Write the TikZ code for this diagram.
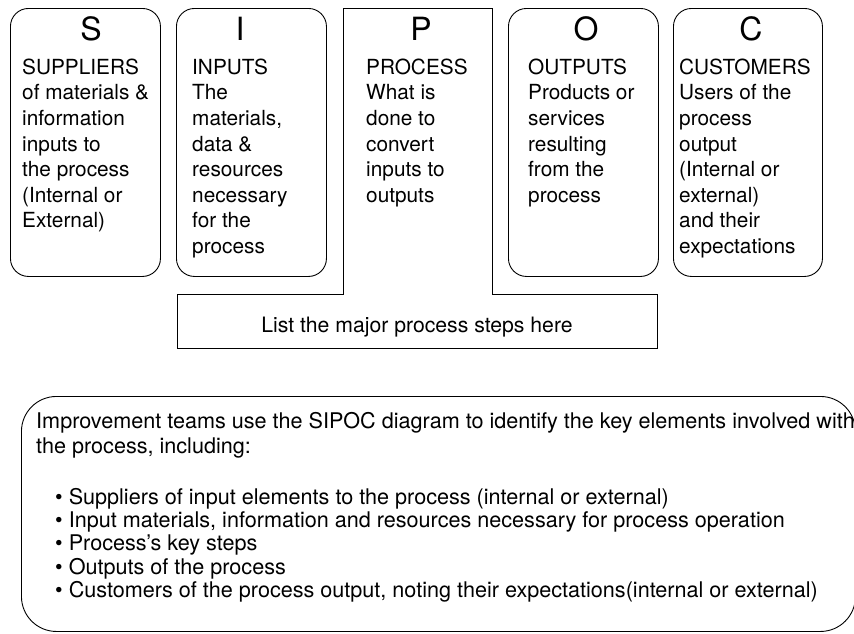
\documentclass[tikz,border=0pt]{standalone}
\usepackage{fontspec}
\setmainfont{TeX Gyre Heros}

\begin{document}
\begin{tikzpicture}[x=1pt, y=-1pt,
    sipocbox/.style={draw, line width=0.9pt, rounded corners=18pt, minimum width=150pt, minimum height=268pt, anchor=north west, inner sep=0pt},
    letter/.style={font=\fontsize{32}{36}\selectfont, anchor=base},
    boxtext/.style={font=\fontsize{20.8}{25.6}\selectfont, align=left, anchor=north west, inner sep=0pt},
    notetext/.style={font=\fontsize{21.6}{25}\selectfont, align=left, anchor=north west, inner sep=0pt},
    bullettext/.style={font=\fontsize{21.6}{23.3}\selectfont, align=left, anchor=north west, inner sep=0pt}]
    \useasboundingbox (0,0) rectangle (854,633);
    \clip (0,0) rectangle (854,633);

    % Kaesten S, I, O, C
    \node[sipocbox] (supbox) at (10,8) {};
    \node[sipocbox] (inbox) at (176,8) {};
    \node[sipocbox] (outbox) at (508,8) {};
    \node[sipocbox, minimum width=149pt] (custbox) at (673,8) {};

    % Prozess-Spalte mit Fuss
    \draw[line width=0.9pt] (343,8) -- (492,8) -- (492,294) -- (657,294) -- (657,348)
        -- (177,348) -- (177,294) -- (343,294) -- cycle;

    % Buchstaben
    \node[letter] (sletter) at (91,40) {S};
    \node[letter] (iletter) at (240,40) {I};
    \node[letter] (pletter) at (421,40) {P};
    \node[letter] (oletter) at (586,40) {O};
    \node[letter] (cletter) at (751,40) {C};

    % Texte
    \node[boxtext] (suptext) at (22,56.1) {\strut SUPPLIERS\\of materials \&\\information\\inputs to\\the process\\(Internal or\\External)};
    \node[boxtext] (intext) at (192,56.1) {\strut INPUTS\\The\\materials,\\data \&\\resources\\necessary\\for the\\process};
    \node[boxtext] (proctext) at (366,56.1) {\strut PROCESS\\What is\\done to\\convert\\inputs to\\outputs};
    \node[boxtext] (outtext) at (528,56.1) {\strut OUTPUTS\\Products or\\services\\resulting\\from the\\process};
    \node[boxtext] (custtext) at (679,56.1) {\strut CUSTOMERS\\Users of the\\process\\output\\(Internal or\\external)\\and their\\expectations};

    \node[font=\fontsize{21.2}{25}\selectfont, anchor=base] (steps) at (417,332) {List the major process steps here};

    % Erlaeuterung unten
    \node[draw, line width=0.9pt, rounded corners=35pt, minimum width=834pt, minimum height=235pt, anchor=north west] (notebox) at (21,396) {};
    \node[notetext] (intro) at (36,410.5) {\strut Improvement teams use the SIPOC diagram to identify the key elements involved with\\the process, including:};
    \node[bullettext] (points) at (55,487.7) {\strut\textbullet\ Suppliers of input elements to the process (internal or external)\\
        \textbullet\ Input materials, information and resources necessary for process operation\\
        \textbullet\ Process’s key steps\\
        \textbullet\ Outputs of the process\\
        \textbullet\ Customers of the process output, noting their expectations(internal or external)};
\end{tikzpicture}
\end{document}
